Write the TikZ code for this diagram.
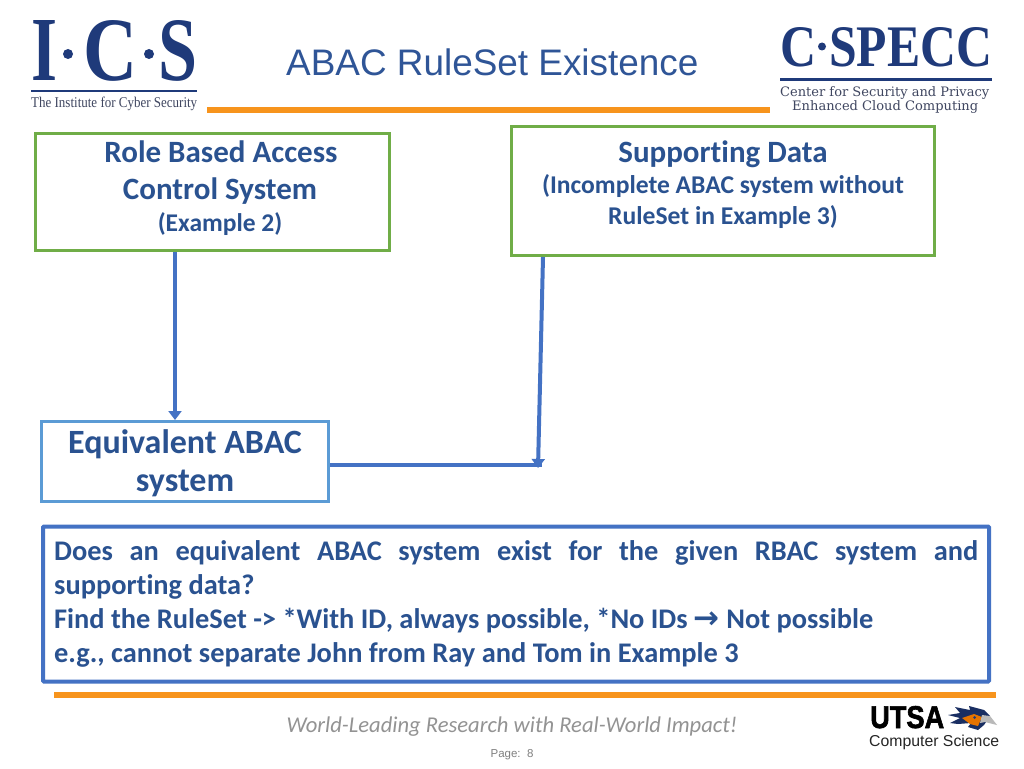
\documentclass[tikz,border=0pt]{standalone}
\usepackage{fontspec}
\usepackage{graphicx}
\setmainfont{Carlito}[Ligatures=CommonOff]
\newfontfamily\libsans{Liberation Sans}
\newfontfamily\libserif{Liberation Serif}
\newfontfamily\djserif{DejaVu Serif}
\newfontfamily\djsans{DejaVu Sans}
\newfontfamily\heavysans{Liberation Sans Bold}[FakeBold=2]
\usetikzlibrary{arrows.meta}
\definecolor{txtblue}{HTML}{2A5290}
\definecolor{titleblue}{HTML}{2F5597}
\definecolor{linkblue}{HTML}{4472C4}
\definecolor{okgreen}{HTML}{70AD47}
\definecolor{skyblue}{HTML}{5B9BD5}
\definecolor{barorange}{HTML}{F7941D}
\definecolor{navy}{HTML}{1F3A7A}
\definecolor{logogray}{HTML}{3F4660}
\tikzset{
  x=1pt,y=-1pt,
  box/.style={draw,line width=3pt,inner sep=0pt,rectangle},
  lbl/.style={text=txtblue,align=center,inner sep=0pt,font=\bfseries},
  conn/.style={draw=linkblue,line width=4pt},
  tipconn/.style={conn,-{Triangle[length=9pt,width=13pt]}},
  bar/.style={fill=barorange,draw=none},
  logo/.style={anchor=base west,inner sep=0pt,text=navy,font=\libserif\bfseries},
}
\newcommand{\fs}[1]{\fontsize{#1}{#1}\selectfont}
\begin{document}
\begin{tikzpicture}
\useasboundingbox (0,0) rectangle (1024,768);
\fill[white] (0,0) rectangle (1024,768);
% bars
\fill[bar] (207,107) rectangle (770,112.5);
\fill[bar] (54,692) rectangle (996,697.5);
% title
\node[anchor=base west,inner sep=0pt,text=titleblue,font=\libsans\fs{36.9}] (title) at (286,75) {ABAC RuleSet Existence};
% ICS logo
\node[logo] (icsI) at (31,81) {\resizebox{26pt}{60pt}{I}};
\fill[navy] (68,54) circle (5);
\node[logo] (icsC) at (83,80) {\resizebox{54pt}{60pt}{C}};
\fill[navy] (149,54) circle (5);
\node[logo] (icsS) at (158,80) {\resizebox{39pt}{60pt}{S}};
\fill[navy] (31,89.5) rectangle (197,91.5);
\node[anchor=base west,inner sep=0pt,text=logogray,font=\libserif] (icssub) at (31,107) {\resizebox{166pt}{10.5pt}{The Institute for Cyber Security}};
% CSPECC logo
\node[logo] (cspC) at (780,66.5) {\resizebox{36pt}{39pt}{C}};
\fill[navy] (822,46.5) circle (4);
\node[logo] (cspS) at (829,66.5) {\resizebox{163pt}{39pt}{SPECC}};
\fill[navy] (780,78.3) rectangle (992,80.5);
\node[anchor=base west,inner sep=0pt,text=logogray,font=\djserif] (cs1) at (780,96.5) {\resizebox{209pt}{!}{Center for Security and Privacy}};
\node[anchor=base west,inner sep=0pt,text=logogray,font=\djserif] (cs2) at (792,110) {\resizebox{186pt}{!}{Enhanced Cloud Computing}};
% boxes
\node[box,draw=okgreen,minimum width=354pt,minimum height=117pt] (rbac) at (212.5,192) {};
\node[lbl,anchor=base] (rbacA) at (221,162) {\fs{31}Role Based Access};
\node[lbl,anchor=base] (rbacB) at (220,199.5) {\fs{31}Control System};
\node[lbl,anchor=base] (rbacC) at (220,231) {\fs{25.5}(Example 2)};
\node[box,draw=okgreen,minimum width=423pt,minimum height=129pt] (supp) at (723,191) {};
\node[lbl,anchor=base] (suppA) at (723,162) {\fs{31}Supporting Data};
\node[lbl,anchor=base] (suppB) at (723,193.5) {\fs{25.6}(Incomplete ABAC system without};
\node[lbl,anchor=base] (suppC) at (723,224.5) {\fs{25.6}RuleSet in Example 3)};
\node[box,draw=skyblue,minimum width=287pt,minimum height=80pt] (equiv) at (185,461.5) {};
\node[lbl,anchor=base] (eqA) at (185,453.5) {\fs{34}Equivalent ABAC};
\node[lbl,anchor=base] (eqB) at (185,491) {\fs{34}system};
\node[box,draw=linkblue,line width=4pt,rounded corners=1pt,minimum width=946pt,minimum height=155pt] (q) at (516,604) {};
\node[anchor=north west,inner sep=0pt,text=txtblue,font=\bfseries\fontsize{28.4}{34}\selectfont,text width=924pt,align=justify] (qtext) at (54,540) {Does an equivalent ABAC system exist for the given RBAC system and\linebreak supporting data?\par
Find the RuleSet -> *With ID, always possible, *No IDs {\djsans\bfseries\fontsize{31}{34}\selectfont →} Not possible\par
e.g., cannot separate John from Ray and Tom in Example 3};
% connectors
\coordinate (xa) at (175,0);
\coordinate (top) at (543,0);
\coordinate (join) at (538,468);
\coordinate (joinEnd) at (542,465);
\draw[conn] (equiv.east |- joinEnd) -- (joinEnd);
\draw[tipconn] (rbac.south -| xa) -- (equiv.north -| xa);
\draw[tipconn] (supp.south -| top) -- (join);
% footer
\node[anchor=base,inner sep=0pt,text=gray!85!white,font=\itshape\fs{22.6}] (foot) at (512,732) {World-Leading Research with Real-World Impact!};
\node[anchor=base,inner sep=0pt,text=gray,font=\libsans\fs{11.5}] (page) at (512,757) {Page:\ \ 8};
% UTSA logo
\node[anchor=base west,inner sep=0pt,text=black,font=\heavysans] (utsa) at (870,728) {\resizebox{74pt}{22pt}{UTSA}};
\node[anchor=base west,inner sep=0pt,text=black!85,font=\libsans] (cs) at (869,746) {\resizebox{130pt}{!}{Computer Science}};
% roadrunner
\fill[navy!80!black] (948,715) -- (960,713) -- (955,707) -- (970,710) -- (969,706) -- (984,710) -- (990,716) -- (984,725) -- (978,730) -- (968,727) -- (971,723) -- (958,724) -- (950,723) -- (960,718) -- cycle;
\fill[orange!90!black] (962,718) -- (974,714) -- (982,717) -- (978,726) -- (970,724) -- cycle;
\fill[navy] (974.5,717.5) circle (1.5);
\fill[gray!55] (982,715) -- (990,716) -- (997,725) -- (985,722) -- (980,723) -- cycle;
\end{tikzpicture}
\end{document}
